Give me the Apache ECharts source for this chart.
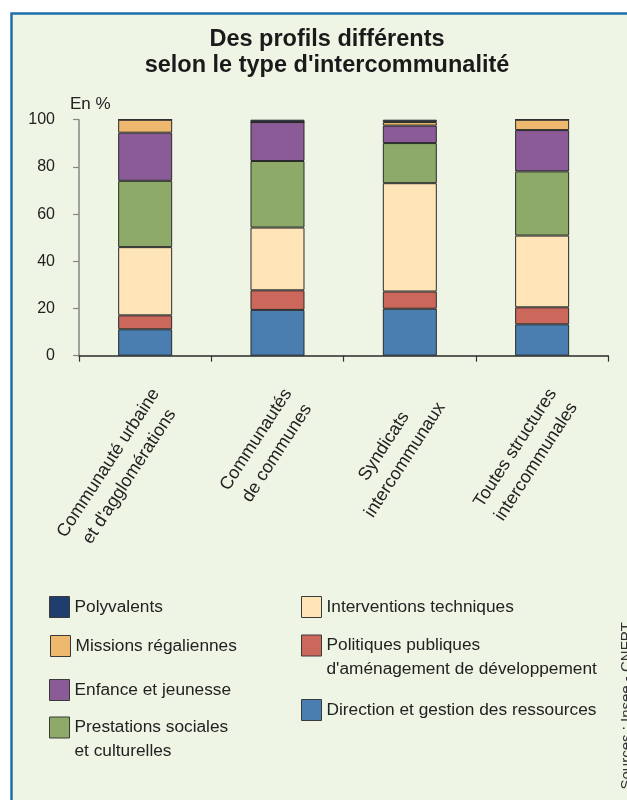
<!DOCTYPE html>
<html>
<head>
<meta charset="utf-8">
<script src="https://cdn.jsdelivr.net/npm/echarts@6/dist/echarts.min.js"></script>
<style>
  html, body { margin: 0; padding: 0; background: #ffffff; }
  #chart { width: 627px; height: 800px; }
</style>
</head>
<body>
<div id="chart"></div>
<script>
// Categories (x axis)
const categories = [
  "Communauté urbaine\net d'agglomérations",
  "Communautés\nde communes",
  "Syndicats\nintercommunaux",
  "Toutes structures\nintercommunales"
];

// Shares in %, stacked from bottom to top
const direction     = [11.2, 19.4, 19.9, 13.3];
const politiques    = [5.9, 8.3, 7.3, 7.2];
const interventions = [28.9, 26.6, 45.9, 30.4];
const prestations   = [28.1, 28.2, 17.0, 27.2];
const enfance       = [20.4, 16.5, 7.4, 17.5];
const missions      = [5.5, 0, 1.5, 4.4];
const polyvalents   = [0, 1.0, 1.0, 0];

// Y axis ticks
const yMin = 0, yMax = 100, yStep = 20;

const seriesNames = [
  'Direction et gestion des ressources',
  "Politiques publiques\nd'aménagement de développement",
  'Interventions techniques',
  'Prestations sociales\net culturelles',
  'Enfance et jeunesse',
  'Missions régaliennes',
  'Polyvalents'
];
const seriesData = [direction, politiques, interventions, prestations, enfance, missions, polyvalents];
const seriesColors = ['#4a7eb1', '#cc675c', '#fee4b6', '#8eaa68', '#8a5b96', '#efb86f', '#1f3d6d'];

const SANS = "'Liberation Sans', Arial, Helvetica, sans-serif";

// Legend placement: icon top-left corner of each entry
const legendSlots = [
  { name: seriesNames[6], left: 49, top: 596 },
  { name: seriesNames[5], left: 50, top: 635 },
  { name: seriesNames[4], left: 49, top: 679 },
  { name: seriesNames[3], left: 49, top: 717 },
  { name: seriesNames[2], left: 301, top: 596 },
  { name: seriesNames[1], left: 301, top: 635 },
  { name: seriesNames[0], left: 301, top: 699 }
];

const LEG_ICON_H = 21;
const LEG_LINE = 23.3;

// Wrapped entries get an empty leading line so that their first line sits
// level with the colour box (legend text is centred on the box).
const legends = legendSlots.map(function (slot) {
  const nLines = slot.name.split('\n').length;
  const shown = nLines > 1 ? nLines * 2 - 1 : 1;
  const lh = nLines > 1 ? LEG_LINE : LEG_ICON_H;
  const boxTop = Math.min(0, LEG_ICON_H / 2 - (shown * lh) / 2);
  return {
    data: [slot.name],
    left: slot.left,
    top: slot.top + boxTop,
    orient: 'vertical',
    padding: 0,
    icon: 'rect',
    itemWidth: 20,
    itemHeight: LEG_ICON_H,
    selectedMode: false,
    formatter: function (name) {
      const parts = name.split('\n');
      return parts.length > 1 ? '\n'.repeat(parts.length - 1) + name : name;
    },
    itemStyle: { borderColor: '#3a3a3a', borderWidth: 1 },
    textStyle: {
      fontFamily: SANS,
      fontSize: 17.3,
      color: '#222222',
      lineHeight: lh
    }
  };
});

const chart = echarts.init(document.getElementById('chart'), null, { renderer: 'canvas' });

chart.setOption({
  animation: false,
  backgroundColor: '#ffffff',
  graphic: [
    {
      type: 'rect',
      z: -10,
      shape: { x: 11.5, y: 13.5, width: 660, height: 820 },
      style: { fill: '#eef5e5', stroke: '#1f6fab', lineWidth: 2.5 }
    },
    {
      type: 'text',
      x: 327,
      y: 52.5,
      style: {
        text: "Des profils différents\nselon le type d'intercommunalité",
        font: 'bold 23.5px ' + SANS,
        lineHeight: 25.7,
        fill: '#1a1a1a',
        align: 'center',
        verticalAlign: 'middle'
      }
    },
    {
      type: 'text',
      x: 70,
      y: 104,
      style: {
        text: 'En %',
        font: '17px ' + SANS,
        fill: '#222222',
        align: 'left',
        verticalAlign: 'middle'
      }
    },
    {
      type: 'text',
      x: 619,
      y: 622,
      rotation: Math.PI / 2,
      style: {
        text: 'Sources : Insee - CNFPT',
        font: '15px ' + SANS,
        fill: '#333333',
        align: 'right',
        verticalAlign: 'top'
      }
    }
  ],
  grid: { left: 79, right: 18.7, top: 119.7, bottom: 444.3 },
  xAxis: {
    type: 'category',
    data: categories,
    boundaryGap: true,
    axisLine: { show: true, lineStyle: { color: '#2a2a2a', width: 1.5 } },
    axisTick: { show: true, alignWithLabel: false, length: 6, lineStyle: { color: '#333333', width: 1.2 } },
    axisLabel: {
      interval: 0,
      rotate: 57,
      margin: 28,
      align: 'right',
      verticalAlign: 'top',
      fontFamily: SANS,
      fontSize: 18,
      lineHeight: 25,
      color: '#222222',
      formatter: function (v) {
        return v.split('\n').map(function (s) { return '{c|' + s + '}'; }).join('\n');
      },
      rich: {
        c: { align: 'center', fontFamily: SANS, fontSize: 18, lineHeight: 25, color: '#222222' }
      }
    },
    splitLine: { show: false }
  },
  yAxis: {
    type: 'value',
    min: yMin,
    max: yMax,
    interval: yStep,
    axisLine: { show: true, lineStyle: { color: '#858585', width: 1.5 } },
    axisTick: { show: true, length: 6, lineStyle: { color: '#858585', width: 1.2 } },
    axisLabel: { margin: 24, fontFamily: SANS, fontSize: 16, color: '#222222' },
    splitLine: { show: false }
  },
  legend: legends,
  series: seriesNames.map(function (name, i) {
    return {
      name: name,
      type: 'bar',
      stack: 'total',
      barWidth: 54,
      data: seriesData[i],
      itemStyle: { color: seriesColors[i], borderColor: '#2b2b2b', borderWidth: 1 },
      emphasis: { disabled: true }
    };
  })
});
</script>
</body>
</html>
